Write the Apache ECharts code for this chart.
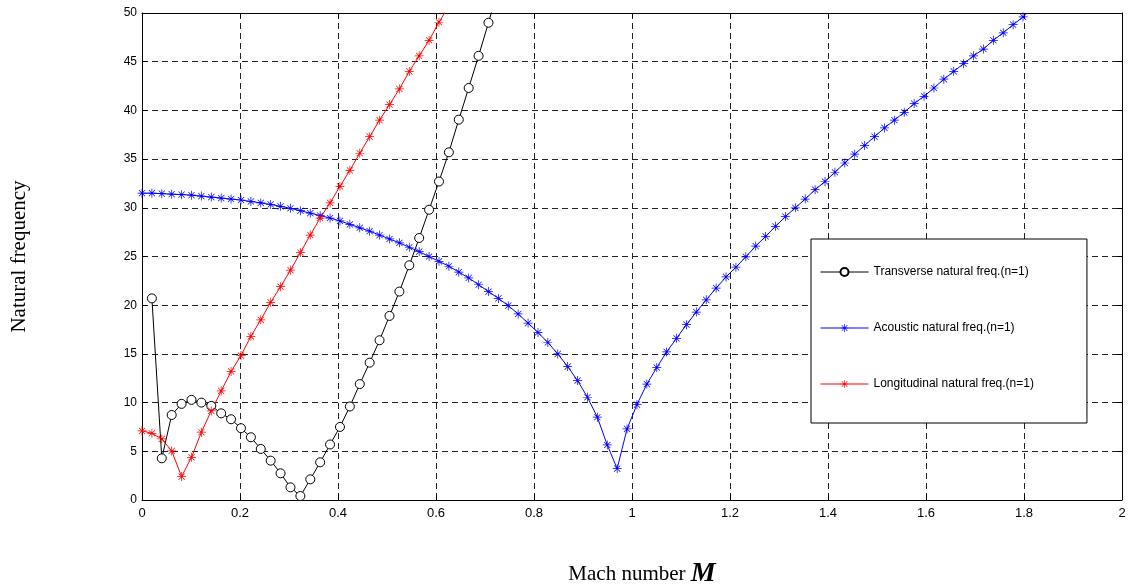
<!DOCTYPE html>
<html><head><meta charset="utf-8">
<script src="https://cdn.jsdelivr.net/npm/echarts@6/dist/echarts.min.js"></script>
<style>html,body{margin:0;padding:0;background:#fff}#c{width:1132px;height:588px}</style>
</head><body><div id="c"></div>
<script>
// Mach number sample points (step 2/99)
const mach = [0, 0.0202, 0.0404, 0.0606, 0.0808, 0.1010, 0.1212, 0.1414, 0.1616, 0.1818,
  0.2020, 0.2222, 0.2424, 0.2626, 0.2828, 0.3030, 0.3232, 0.3434, 0.3636, 0.3838,
  0.4040, 0.4242, 0.4444, 0.4646, 0.4848, 0.5051, 0.5253, 0.5455, 0.5657, 0.5859,
  0.6061, 0.6263, 0.6465, 0.6667, 0.6869, 0.7071, 0.7273, 0.7475, 0.7677, 0.7879,
  0.8081, 0.8283, 0.8485, 0.8687, 0.8889, 0.9091, 0.9293, 0.9495, 0.9697, 0.9899,
  1.0101, 1.0303, 1.0505, 1.0707, 1.0909, 1.1111, 1.1313, 1.1515, 1.1717, 1.1919,
  1.2121, 1.2323, 1.2525, 1.2727, 1.2929, 1.3131, 1.3333, 1.3535, 1.3737, 1.3939,
  1.4141, 1.4343, 1.4545, 1.4747, 1.4949, 1.5152, 1.5354, 1.5556, 1.5758, 1.5960,
  1.6162, 1.6364, 1.6566, 1.6768, 1.6970, 1.7172, 1.7374, 1.7576, 1.7778, 1.7980];

// Transverse natural freq. (n=1), starts at mach[1]
const transverse = [20.7, 4.28, 8.73, 9.87, 10.28, 10.0, 9.66, 8.9, 8.29, 7.37,
  6.44, 5.24, 4.04, 2.74, 1.3, 0.41, 2.12, 3.87, 5.7, 7.5,
  9.6, 11.9, 14.1, 16.4, 18.9, 21.4, 24.1, 26.9, 29.8, 32.7,
  35.7, 39.05, 42.3, 45.6, 49.0, 52.5];

// Acoustic natural freq. (n=1), starts at mach[0]
const acoustic = [31.5, 31.5, 31.45, 31.4, 31.35, 31.3, 31.2, 31.1, 31.0, 30.9,
  30.8, 30.65, 30.5, 30.35, 30.15, 29.95, 29.7, 29.45, 29.2, 28.95,
  28.65, 28.3, 27.95, 27.6, 27.2, 26.8, 26.4, 25.95, 25.5, 25.0,
  24.5, 24.0, 23.4, 22.8, 22.1, 21.4, 20.7, 19.95, 19.1, 18.16,
  17.2, 16.17, 15.0, 13.7, 12.26, 10.55, 8.5, 5.65, 3.22, 7.3,
  9.8, 11.9, 13.6, 15.2, 16.6, 18.0, 19.3, 20.55, 21.76, 22.9,
  23.9, 24.97, 26.07, 27.06, 28.1, 29.1, 30.0, 30.9, 31.86, 32.7,
  33.65, 34.6, 35.5, 36.4, 37.3, 38.2, 39.0, 39.8, 40.7, 41.45,
  42.3, 43.2, 44.0, 44.8, 45.6, 46.3, 47.2, 47.97, 48.8, 49.6];

// Longitudinal natural freq. (n=1), starts at mach[0]
const longitudinal = [7.1, 6.85, 6.27, 5.04, 2.4, 4.38, 6.96, 9.15, 11.2, 13.2,
  14.83, 16.8, 18.5, 20.3, 21.9, 23.6, 25.4, 27.2, 28.95, 30.5,
  32.2, 33.85, 35.6, 37.3, 39.0, 40.6, 42.2, 44.0, 45.6, 47.2,
  49.05, 50.75];

const seriesNames = ['Transverse natural freq.(n=1)', 'Acoustic natural freq.(n=1)', 'Longitudinal natural freq.(n=1)'];
const xMin = 0, xMax = 2, xStep = 0.2;
const yMin = 0, yMax = 50, yStep = 5;

const star = 'path://M9.2,0L10.8,0L10.8,20L9.2,20Z M0,9.2L20,9.2L20,10.8L0,10.8Z M2.6,3.7L3.7,2.6L17.4,16.3L16.3,17.4Z M16.3,2.6L17.4,3.7L3.7,17.4L2.6,16.3Z';

const tData = transverse.map((v, i) => [mach[i + 1], v]);
const aData = acoustic.map((v, i) => [mach[i], v]);
const lData = longitudinal.map((v, i) => [mach[i], v]);

const chart = echarts.init(document.getElementById('c'), null, {renderer: 'canvas'});
const labelFont = 'Liberation Sans, Arial, sans-serif';
const gridDash = {show: true, lineStyle: {color: '#222', width: 1, type: [6, 4]}};
const tickIn = {show: true, inside: true, length: 5, lineStyle: {color: '#000'}};

chart.setOption({
  animation: false,
  backgroundColor: '#fff',
  grid: {left: 142, right: 10, top: 13, bottom: 88, outerBoundsMode: 'none', containLabel: false},
  xAxis: [{
    type: 'value', min: xMin, max: xMax, interval: xStep, position: 'bottom',
    axisLine: {show: true, onZero: false, lineStyle: {color: '#000', width: 1}},
    axisTick: tickIn,
    axisLabel: {color: '#000', fontSize: 13, fontFamily: 'Liberation Sans Narrow, Liberation Sans, Arial, sans-serif', margin: 7},
    splitLine: gridDash,
    name: '{a|Mach number }{b|M}',
    nameLocation: 'middle', nameGap: 60,
    nameTextStyle: {padding: [0, 0, 0, 20], rich: {
      a: {fontFamily: 'Liberation Serif, serif', fontSize: 21, color: '#000'},
      b: {fontFamily: 'Liberation Serif, serif', fontSize: 28, fontStyle: 'italic', fontWeight: 'bold', color: '#000'}
    }}
  }, {
    type: 'value', min: xMin, max: xMax, interval: xStep, position: 'top',
    axisLine: {show: true, onZero: false, lineStyle: {color: '#000', width: 1}},
    axisTick: tickIn, axisLabel: {show: false}, splitLine: {show: false}
  }],
  yAxis: [{
    type: 'value', min: yMin, max: yMax, interval: yStep, position: 'left',
    axisLine: {show: true, onZero: false, lineStyle: {color: '#000', width: 1}},
    axisTick: tickIn,
    axisLabel: {color: '#000', fontSize: 12, fontFamily: labelFont, margin: 5},
    splitLine: gridDash,
    name: 'Natural frequency', nameLocation: 'middle', nameGap: 112,
    nameTextStyle: {fontFamily: 'Liberation Serif, serif', fontSize: 21, color: '#000'}
  }, {
    type: 'value', min: yMin, max: yMax, interval: yStep, position: 'right',
    axisLine: {show: true, onZero: false, lineStyle: {color: '#000', width: 1}},
    axisTick: tickIn, axisLabel: {show: false}, splitLine: {show: false}
  }],
  legend: {
    orient: 'vertical', left: 811, top: 239,
    padding: [27, 53, 33, 9], itemGap: 44, itemWidth: 48, itemHeight: 10,
    borderColor: '#000', borderWidth: 1, backgroundColor: '#fff',
    lineStyle: {width: 1},
    textStyle: {fontFamily: labelFont, fontSize: 12, color: '#000'},
    data: seriesNames
  },
  series: [{
    name: seriesNames[0], type: 'line', data: tData, clip: true,
    symbol: 'circle', symbolSize: 9, showAllSymbol: true,
    lineStyle: {color: '#000', width: 1},
    itemStyle: {color: '#fff', borderColor: '#000', borderWidth: 1}
  }, {
    name: seriesNames[1], type: 'line', data: aData, clip: true,
    symbol: star, symbolSize: 9, showAllSymbol: true,
    lineStyle: {color: '#0000ff', width: 1}, itemStyle: {color: '#0000ff'}
  }, {
    name: seriesNames[2], type: 'line', data: lData, clip: true,
    symbol: star, symbolSize: 9, showAllSymbol: true,
    lineStyle: {color: '#ff0000', width: 1}, itemStyle: {color: '#ff0000'}
  }]
});
</script></body></html>
